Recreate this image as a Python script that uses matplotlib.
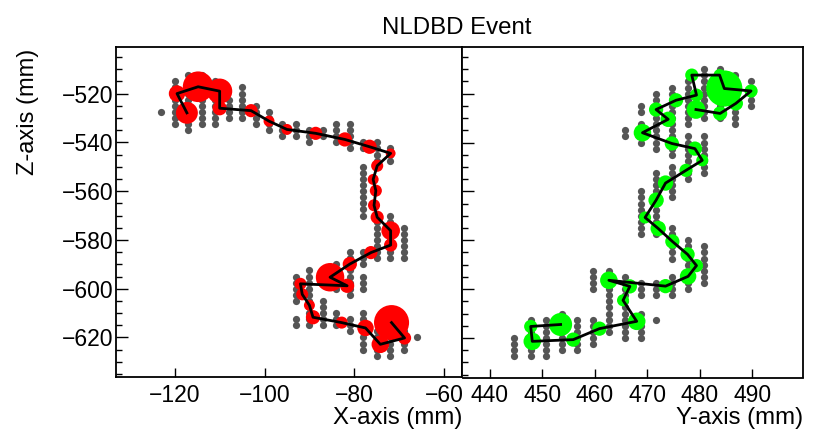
import matplotlib
matplotlib.use("Agg")
import matplotlib.pyplot as plt
from matplotlib.ticker import MultipleLocator

plt.rcParams['font.family'] = ['Liberation Sans', 'DejaVu Sans']

# grey pads, one column per strip position
xz_cols = [-123, -120, -117, -114, -111, -108, -105, -102, -99, -96, -93, -90, -87, -84, -81,
           -78, -75, -72, -69, -66]
xz_rows = [
    [-527.5],
    [-515, -517.5, -520, -522.5, -525, -527.5, -530, -532.5],
    [-512.5, -515, -517.5, -520, -522.5, -525, -527.5, -530, -532.5, -535],
    [-512.5, -515, -517.5, -520, -522.5, -525, -527.5, -530, -532.5],
    [-515, -517.5, -520, -522.5, -525, -527.5, -530, -532.5],
    [-522.5, -525, -527.5, -530],
    [-517.5, -520, -522.5, -525, -527.5, -530],
    [-525, -527.5, -530, -532.5],
    [-527.5, -530, -532.5, -535],
    [-532.5, -535, -537.5],
    [-532.5, -535, -537.5, -595, -597.5, -600, -602.5, -605, -612.5, -615],
    [-535, -537.5, -540, -592.5, -595, -597.5, -600, -602.5, -605, -607.5, -610, -612.5, -615],
    [-535, -537.5, -605, -607.5, -610, -612.5, -615],
    [-532.5, -535, -537.5, -540, -590, -592.5, -595, -597.5, -600, -610, -612.5, -615],
    [-532.5, -535, -537.5, -540, -542.5, -585, -587.5, -590, -592.5, -595, -597.5, -600, -602.5,
     -612.5, -615, -617.5],
    [-540, -542.5, -550, -552.5, -555, -557.5, -560, -562.5, -565, -567.5, -570, -585, -587.5,
     -590, -595, -597.5, -600, -610, -612.5, -615, -617.5, -620, -622.5, -625],
    [-540, -542.5, -545, -547.5, -550, -572.5, -575, -577.5, -580, -582.5, -585, -587.5,
     -617.5, -620, -622.5, -625, -627.5],
    [-542.5, -545, -547.5, -570, -572.5, -575, -577.5, -580, -582.5, -585, -587.5,
     -620, -622.5, -625, -627.5],
    [-575, -577.5, -580, -582.5, -585, -587.5, -617.5, -620, -622.5, -625],
    [-620],
]

yz_cols = [444.7, 447.8, 450.8, 453.7, 456.7, 459.7, 462.8, 465.8, 468.8, 471.7, 474.8, 477.7,
           480.8, 483.8, 486.8, 489.8]
yz_rows = [
    [-620, -622.5, -625, -627.5],
    [-612.5, -615, -617.5, -620, -622.5, -625, -627.5],
    [-612.5, -615, -617.5, -620, -622.5, -625, -627.5],
    [-610, -612.5, -615, -617.5, -620, -622.5, -625],
    [-612.5, -615, -617.5, -620, -622.5, -625],
    [-592.5, -595, -597.5, -600, -612.5, -615, -617.5, -620, -622.5],
    [-592.5, -595, -597.5, -600, -602.5, -605, -607.5, -610, -612.5, -615, -617.5],
    [-535, -537.5, -595, -597.5, -600, -602.5, -605, -607.5, -610, -612.5, -615, -617.5, -620],
    [-525, -527.5, -532.5, -535, -537.5, -540, -560, -562.5, -565, -567.5, -570, -572.5, -575,
     -577.5, -597.5, -600, -602.5, -610, -612.5, -615, -617.5, -620],
    [-520, -522.5, -525, -527.5, -530, -532.5, -535, -537.5, -540, -542.5, -552.5, -555, -557.5,
     -560, -562.5, -565, -567.5, -570, -572.5, -575, -577.5, -597.5, -600, -602.5, -612.5],
    [-517.5, -520, -522.5, -525, -527.5, -530, -532.5, -535, -537.5, -540, -542.5, -545, -550,
     -552.5, -555, -557.5, -560, -562.5, -575, -577.5, -580, -582.5, -585, -587.5,
     -595, -597.5, -600, -602.5],
    [-515, -517.5, -520, -522.5, -525, -527.5, -530, -532.5, -537.5, -540, -542.5, -545, -547.5,
     -550, -552.5, -555, -580, -582.5, -585, -587.5, -590, -592.5, -595, -597.5, -600],
    [-510, -512.5, -515, -517.5, -520, -522.5, -525, -527.5, -530, -537.5, -540, -542.5, -545,
     -547.5, -550, -552.5, -582.5, -585, -587.5, -590, -592.5, -595, -597.5],
    [-510, -512.5, -515, -517.5, -520, -522.5, -525, -527.5, -530],
    [-512.5, -515, -517.5, -520, -522.5, -525, -527.5, -530, -532.5],
    [-515, -517.5, -520, -522.5, -525],
]

# red track, X-Z view
x_track = [-117.3, -119.5, -114.8, -110, -110, -103, -99, -95, -88.6, -82.1, -76.6, -71.9, -74.9,
           -75.8, -75.2, -75.6, -74.9, -71.9, -71.9, -76.3, -81, -85.4, -81.6, -92, -91.6, -90,
           -89.2, -82.8, -77.5, -74.2, -68.8, -71.7]
xz_track = [-527.9, -520, -517.2, -519, -526, -527, -531.3, -534.7, -536.3, -538.8, -541.8, -544.5,
            -549.6, -555.2, -559.8, -565.8, -570.7, -576.2, -582.1, -585.2, -589.9, -595.3, -598.8,
            -598, -602.3, -606.8, -611.7, -613.9, -616.1, -622.8, -620.2, -613.9]
x_energy = [207, 117, 406, 274, 88, 75, 52, 52, 75, 88, 88, 42, 63, 52, 63, 63, 75, 150, 75, 75,
            88, 350, 88, 63, 63, 52, 88, 63, 117, 133, 75, 531]

# green track, Y-Z view
y_track = [479.3, 483.9, 486.9, 489.8, 484.7, 483.8, 478.5, 479.4, 475.5, 471.7, 474, 469.1, 474.7,
           479.1, 480.5, 477.4, 473.5, 471.7, 469.6, 472.1, 474.8, 477.7, 479.4, 477.8, 473.5,
           462.7, 466.7, 465.4, 468, 460.9, 455.9, 448.1, 447.8, 453.5]
yz_track = [-526.5, -528.1, -524, -518.9, -517.9, -512.4, -512.4, -520.6, -522.7, -526.5, -530.5,
            -536, -540.4, -542.5, -547.3, -551.4, -556.6, -563.6, -570.7, -575.2, -580.5, -585.8,
            -590.4, -594.8, -598.8, -596.4, -598.9, -604.6, -613.2, -616.2, -620.7, -621.4, -615.3,
            -614.5]
y_energy = [150, 88, 88, 75, 565, 63, 75, 75, 88, 88, 102, 133, 88, 88, 63, 75, 102, 102, 63, 102,
            88, 88, 75, 117, 88, 133, 88, 63, 133, 88, 88, 133, 75, 229]

W, H = 831, 441
fig = plt.figure(figsize=(W / 100, H / 100), dpi=100)
ax1 = fig.add_axes([116 / W, 1 - 377 / H, (462 - 116) / W, (377 - 47) / H])
ax2 = fig.add_axes([462.5 / W, 1 - 377.5 / H, (803 - 462.5) / W, (377.5 - 47) / H])


def draw_view(ax, cols, rows, tx, tz, energy, colour):
    for c, r in zip(cols, rows):
        ax.scatter([c] * len(r), r, s=27, color='#555555', linewidths=0, zorder=2)
    ax.scatter(tx, tz, s=[e * 1.2 for e in energy], color=colour, linewidths=0, zorder=3)
    ax.plot(tx, tz, color='black', lw=2, zorder=4)


draw_view(ax1, xz_cols, xz_rows, x_track, xz_track, x_energy, '#ff0000')
draw_view(ax2, yz_cols, yz_rows, y_track, yz_track, y_energy, '#00ff00')

ax1.set_xlim(-133.1, -56)
ax2.set_xlim(434.8, 499.7)
ax1.xaxis.set_major_locator(MultipleLocator(20))
ax2.xaxis.set_major_locator(MultipleLocator(10))

for ax in (ax1, ax2):
    ax.set_ylim(-636.2, -500.9)
    ax.yaxis.set_major_locator(MultipleLocator(20))
    ax.yaxis.set_minor_locator(MultipleLocator(5))
    ax.tick_params(axis='x', which='major', direction='in', length=6.5, width=1, labelsize=16.5, pad=5)
    ax.tick_params(axis='y', which='major', direction='in', length=8.5, width=1, labelsize=16.5, pad=2)
    ax.tick_params(axis='y', which='minor', direction='in', length=4.3, width=1)
    for s in ax.spines.values():
        s.set_linewidth(1.3)
ax2.tick_params(axis='y', which='both', labelleft=False)

ax1.set_xlabel('X-axis (mm)', fontsize=17.3, loc='right', labelpad=0)
ax2.set_xlabel('Y-axis (mm)', fontsize=17.3, loc='right', labelpad=0)
fig.text(28 / W, 1 - 111.5 / H, 'Z-axis (mm)', rotation=90, fontsize=17, ha='center', va='center')
fig.text(457 / W, 1 - 28 / H, 'NLDBD Event', fontsize=17.3, ha='center', va='center')

fig.savefig('out.png', dpi=100)
